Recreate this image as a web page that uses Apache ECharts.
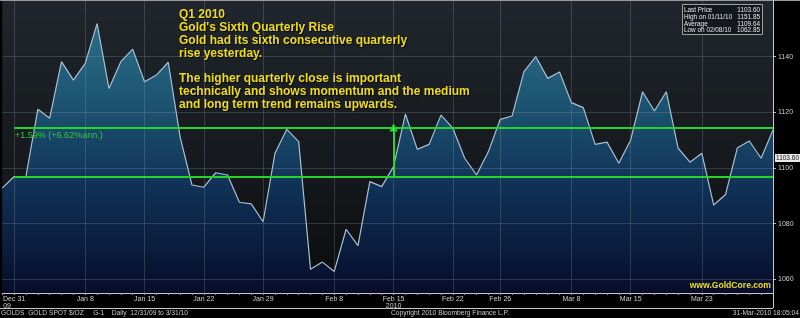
<!DOCTYPE html>
<html><head><meta charset="utf-8">
<script src="https://cdn.jsdelivr.net/npm/echarts@6/dist/echarts.min.js"></script>
<style>html,body{margin:0;padding:0;background:#000;}#c{width:800px;height:318px;}</style>
</head><body><div id="c"></div>
<script>
const dates = ['Dec 30','Dec 31','Jan 1','Jan 4','Jan 5','Jan 6','Jan 7','Jan 8','Jan 11','Jan 12',
 'Jan 13','Jan 14','Jan 15','Jan 18','Jan 19','Jan 20','Jan 21','Jan 22','Jan 25','Jan 26',
 'Jan 27','Jan 28','Jan 29','Feb 1','Feb 2','Feb 3','Feb 4','Feb 5','Feb 8','Feb 9',
 'Feb 10','Feb 11','Feb 12','Feb 15','Feb 16','Feb 17','Feb 18','Feb 19','Feb 22','Feb 23',
 'Feb 24','Feb 25','Feb 26','Mar 1','Mar 2','Mar 3','Mar 4','Mar 5','Mar 8','Mar 9',
 'Mar 10','Mar 11','Mar 12','Mar 15','Mar 16','Mar 17','Mar 18','Mar 19','Mar 22','Mar 23',
 'Mar 24','Mar 25','Mar 26','Mar 29','Mar 30','Mar 31'];
const prices = [1092.8,1096.95,1096.95,1121.1,1117.9,1138.2,1131.6,1137.6,1151.85,1128.6,
 1138.2,1142.7,1131.0,1133.4,1138.0,1111.2,1093.9,1093.1,1098.3,1097.5,
 1087.7,1087.1,1080.7,1105.3,1113.9,1109.5,1063.6,1066.2,1062.85,1078.0,
 1072.1,1095.1,1093.3,1100.5,1119.4,1106.7,1108.5,1119.0,1114.3,1103.5,
 1097.5,1105.9,1117.5,1118.7,1134.6,1140.0,1132.2,1134.5,1123.5,1121.7,
 1108.5,1109.3,1101.7,1110.1,1127.4,1120.5,1127.4,1107.1,1102.1,1105.3,
 1086.7,1090.5,1107.3,1109.7,1103.5,1113.7];
const labelDates = ['Dec 31','Jan 8','Jan 15','Jan 22','Jan 29','Feb 8','Feb 15','Feb 22','Feb 26','Mar 8','Mar 15','Mar 23'];
const yearLabels = {'Dec 31':'09','Feb 15':'2010'};
const yTicks = [1060,1080,1100,1120,1140];
const qStartLevel = 1096.95, qEndLevel = 1114.4, qStartDate = 'Dec 31', markDate = 'Feb 15', endDate = 'Mar 31';
const changeLabel = '+1.59% (+6.62%ann.)';
const lastPrice = 1103.60;
const statRows = [['Last Price','1103.60'],['High on 01/11/10','1151.85'],['Average','1109.64'],['Low on 02/08/10','1062.85']];
const noteLines = ['Q1 2010',"Gold's Sixth Quarterly Rise",'Gold had its sixth consecutive quarterly','rise yesterday.','',
 'The higher quarterly close is important','technically and shows momentum and the medium','and long term trend remains upwards.'];
const footerLeft = 'GOLDS  GOLD SPOT $/OZ     G-1    Daily  12/31/09 to 3/31/10';
const footerMid = 'Copyright 2010 Bloomberg Finance L.P.';
const footerRight = '31-Mar-2010 18:05:04';
const siteText = 'www.GoldCore.com';

const FONT = 'Liberation Sans, Arial, sans-serif';
const chart = echarts.init(document.getElementById('c'), null, {renderer:'canvas'});
const G = echarts.graphic;
const gridColor = 'rgba(150,165,180,0.25)';

const option = {
  backgroundColor: '#000',
  animation: false,
  grid: {left:1, right:27, top:1, bottom:25, show:true, borderWidth:0,
    backgroundColor: new G.LinearGradient(0,0,0,1,[{offset:0,color:'#20262d'},{offset:0.6,color:'#15181c'},{offset:1,color:'#0b0b0c'}])},
  xAxis: {type:'category', data:dates, boundaryGap:false,
    axisLine:{lineStyle:{color:'#c8c8c8', width:1}},
    axisTick:{show:true, interval:0, length:2, lineStyle:{color:'#999'}},
    splitLine:{show:false},
    axisLabel:{interval:(i,v)=>labelDates.includes(v), margin:3, color:'#cfcfcf', fontSize:7, fontFamily:FONT, lineHeight:7,
      formatter:(v)=> yearLabels[v] ? '{d|'+v+'}\n{'+(v==='Dec 31'?'a':'b')+'|'+yearLabels[v]+'}' : '{d|'+v+'}',
      rich:{d:{fontSize:7,color:'#cfcfcf',fontFamily:FONT,lineHeight:7},
            a:{fontSize:7,color:'#cfcfcf',fontFamily:FONT,lineHeight:7,padding:[0,14,0,0]},
            b:{fontSize:7,color:'#cfcfcf',fontFamily:FONT,lineHeight:7}}}
  },
  yAxis: {type:'value', position:'right', min:1055.1, max:1160, scale:true,
    axisLine:{show:false},
    axisTick:{show:true, customValues:yTicks, length:3, lineStyle:{color:'#bbb'}},
    axisLabel:{customValues:yTicks, color:'#cfcfcf', fontSize:7, fontFamily:FONT, margin:5, formatter:(v)=>String(Math.round(v))},
    splitLine:{show:false}
  },
  series: [
    {type:'line', data:prices, symbol:'none', z:3,
     lineStyle:{color:'#a9c1d2', width:1.2},
     areaStyle:{origin:'start', color:new G.LinearGradient(0,0,0,1,[
        {offset:0,color:'#2f8fb0'},{offset:0.3,color:'#1d6a92'},{offset:0.6,color:'#0f3e72'},{offset:1,color:'#040d36'}])},
     markLine:{silent:true, symbol:'none', animation:false,
       lineStyle:{color:'#25d62a', width:2, type:'solid'},
       data:[
         [{coord:[qStartDate,qStartLevel]},{coord:[endDate,qStartLevel]}],
         [{coord:[qStartDate,qEndLevel], label:{show:true, position:'insideStartBottom', formatter:changeLabel, color:'#35c83a', fontSize:9, fontFamily:FONT, distance:[1,3]}},{coord:[endDate,qEndLevel]}],
         [{coord:[markDate,qStartLevel], symbol:'none'},{coord:[markDate,qEndLevel], symbol:'emptyTriangle', symbolSize:5}]
       ], label:{show:false}}
    },
    {type:'line', data:prices, symbol:'none', z:4, lineStyle:{opacity:0}, silent:true,
     markLine:{silent:true, symbol:'none', animation:false, label:{show:false},
       lineStyle:{color:gridColor, width:1, type:'solid'},
       data: yTicks.map(v=>({yAxis:v})).concat(labelDates.map(d=>({xAxis:d})))}
    }
  ],
  graphic: []
};
chart.setOption(option);

const gr = [];
const Z = 100;
gr.push({type:'line', z:Z, shape:{x1:0,y1:0.5,x2:800,y2:0.5}, style:{stroke:'#9a9a9a', lineWidth:1}, silent:true});
gr.push({type:'line', z:Z, shape:{x1:773.5,y1:0,x2:773.5,y2:308}, style:{stroke:'#c8c8c8', lineWidth:1}, silent:true});
gr.push({type:'line', z:Z, shape:{x1:0,y1:308.5,x2:773,y2:308.5}, style:{stroke:'#c8c8c8', lineWidth:1}, silent:true});
gr.push({type:'rect', z:Z, shape:{x:682.5,y:4.5,width:80,height:30}, style:{fill:'#14181d', stroke:'#a0a0a0', lineWidth:1}, silent:true});
statRows.forEach((r,i)=>{
  gr.push({type:'text', z:Z+1, x:684, y:7.3+i*6.8, style:{text:r[0], fill:'#e6e6e6', font:'6.4px '+FONT, textVerticalAlign:'top'}, silent:true});
  gr.push({type:'text', z:Z+1, x:760, y:7.3+i*6.8, style:{text:r[1], fill:'#e6e6e6', font:'6.4px '+FONT, textAlign:'right', textVerticalAlign:'top'}, silent:true});
});
noteLines.forEach((t,i)=>{
  if(!t) return;
  gr.push({type:'text', z:Z, x:179, y:15+i*12.75, style:{text:t, fill:'#f0dc1e', font:'bold 12px '+FONT, textVerticalAlign:'middle', textShadowColor:'rgba(0,0,0,0.8)', textShadowBlur:1, textShadowOffsetX:1, textShadowOffsetY:1}, silent:true});
});
gr.push({type:'text', z:Z, x:771, y:286, style:{text:siteText, fill:'#f0dc1e', font:'bold 8.6px '+FONT, textAlign:'right', textVerticalAlign:'middle'}, silent:true});
gr.push({type:'text', z:Z, x:1, y:313.5, style:{text:footerLeft, fill:'#c8c8c8', font:'6.7px '+FONT, textVerticalAlign:'middle'}, silent:true});
gr.push({type:'text', z:Z, x:450, y:313.5, style:{text:footerMid, fill:'#c8c8c8', font:'6.7px '+FONT, textAlign:'center', textVerticalAlign:'middle'}, silent:true});
gr.push({type:'text', z:Z, x:799, y:313.5, style:{text:footerRight, fill:'#c8c8c8', font:'6.7px '+FONT, textAlign:'right', textVerticalAlign:'middle'}, silent:true});
const ly = chart.convertToPixel({yAxisIndex:0}, lastPrice);
gr.push({type:'rect', z:Z, shape:{x:775,y:ly-4,width:25,height:8}, style:{fill:'#e8e8e8'}, silent:true});
gr.push({type:'text', z:Z+1, x:787.5, y:ly, style:{text:lastPrice.toFixed(2), fill:'#111', font:'6.5px '+FONT, textAlign:'center', textVerticalAlign:'middle'}, silent:true});
chart.setOption({graphic: gr});
</script></body></html>
